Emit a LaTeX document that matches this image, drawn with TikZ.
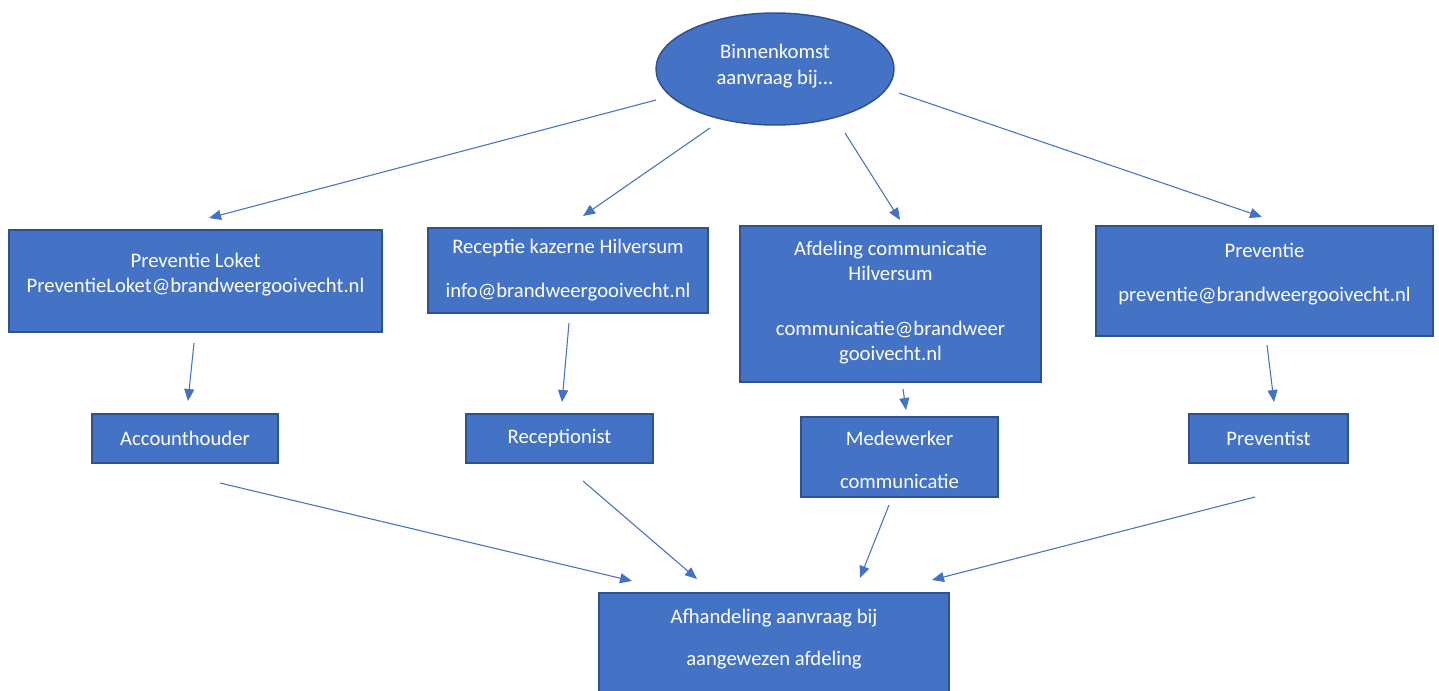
\documentclass[tikz,border=0pt]{standalone}
\usepackage{fontspec}
\setmainfont{Carlito}
\usetikzlibrary{shapes.geometric, arrows.meta}
\definecolor{vak}{HTML}{4472C4}
\definecolor{rand}{HTML}{2F528F}

\begin{document}
\begin{tikzpicture}[
        x=0.75pt, y=-0.75pt,
        vak/.style={draw=rand, line width=1.1pt, fill=vak, inner sep=0pt, outer sep=0pt},
        tekst/.style={align=center, text=white, inner sep=0pt,
          font=\fontsize{15.5}{18.75}\selectfont},
        pijl/.style={draw=vak, line width=0.8pt, -{Triangle[length=9pt, width=7.5pt]}}
      ]
      \useasboundingbox (0,0) rectangle (1439,690);

      \node[vak, ellipse, minimum width=178.5pt, minimum height=84pt] (binnen) at (775,69) {};
      \node[tekst, font=\fontsize{15.5}{19.5}\selectfont] (binnen-t) at (775,66) {Binnenkomst\\aanvraag bij...};

      \node[vak, minimum width=279.75pt, minimum height=76.5pt] (loket) at (195.5,281) {};
      \node[tekst] (loket-t) at (195.5,275) {Preventie Loket\\PreventieLoket@brandweergooivecht.nl};

      \node[vak, minimum width=210pt, minimum height=63.75pt] (receptie) at (568,270.5) {};
      \node[tekst] (receptie-t) at (568,270.5) {Receptie kazerne Hilversum\\[14.25pt]info@brandweergooivecht.nl};

      \node[vak, minimum width=225.75pt, minimum height=117pt] (comm) at (890.5,304) {};
      \node[tekst] (comm-t) at (890.5,302.5) {Afdeling communicatie\\Hilversum\\[22.5pt]communicatie@brandweer\\gooivecht.nl};

      \node[vak, minimum width=252.75pt, minimum height=82.5pt] (prev) at (1264.5,281) {};
      \node[tekst] (prev-t) at (1264.5,274) {Preventie\\[14.25pt]preventie@brandweergooivecht.nl};

      \node[vak, minimum width=139.5pt, minimum height=36.75pt] (acc) at (185,438.5) {};
      \node[tekst] (acc-t) at (185,438) {Accounthouder};

      \node[vak, minimum width=140.25pt, minimum height=36.75pt] (recp) at (559.5,438.5) {};
      \node[tekst] (recp-t) at (559.5,438) {Receptionist};

      \node[vak, minimum width=147.75pt, minimum height=60pt] (mede) at (899.5,457) {};
      \node[tekst] (mede-t) at (899.5,460) {Medewerker\\[13pt]communicatie};

      \node[vak, minimum width=119.25pt, minimum height=36.75pt] (prevt) at (1268.5,438.5) {};
      \node[tekst] (prevt-t) at (1268.5,438) {Preventist};

      \node[vak, minimum width=262.5pt, minimum height=80.25pt] (afh) at (774,646.5) {};
      \node[tekst] (afh-t) at (774,639) {Afhandeling aanvraag bij\\[13pt]aangewezen afdeling};

      \draw[pijl] ([shift={(0,31)}]binnen.west) -- ([shift={(13.5,-12)}]loket.north);
      \draw[pijl] ([shift={(-65,3)}]binnen.south) -- ([shift={(15,-12)}]receptie.north);
      \draw[pijl] ([shift={(70,8)}]binnen.south) -- ([shift={(9.5,-6)}]comm.north);
      \draw[pijl] ([shift={(5,24)}]binnen.east) -- ([shift={(-2.5,-9)}]prev.north);

      \draw[pijl] ([shift={(-1.5,11)}]loket.south) -- ([shift={(3,-13)}]acc.north);
      \draw[pijl] ([shift={(1,10)}]receptie.south) -- ([shift={(2.5,-12)}]recp.north);
      \draw[pijl] ([shift={(12.5,7)}]comm.south) -- ([shift={(6.5,-7)}]mede.north);
      \draw[pijl] ([shift={(2.5,9)}]prev.south) -- ([shift={(5.5,-12)}]prevt.north);

      \draw[pijl] ([shift={(35,20)}]acc.south) -- ([shift={(-142,-12)}]afh.north);
      \draw[pijl] ([shift={(23.5,18)}]recp.south) -- ([shift={(-77,-14)}]afh.north);
      \draw[pijl] ([shift={(-10.5,8)}]mede.south) -- ([shift={(86,-15)}]afh.north);
      \draw[pijl] ([shift={(-13.5,34)}]prevt.south) -- ([shift={(158,-13)}]afh.north);

      \end{tikzpicture}
\end{document}
